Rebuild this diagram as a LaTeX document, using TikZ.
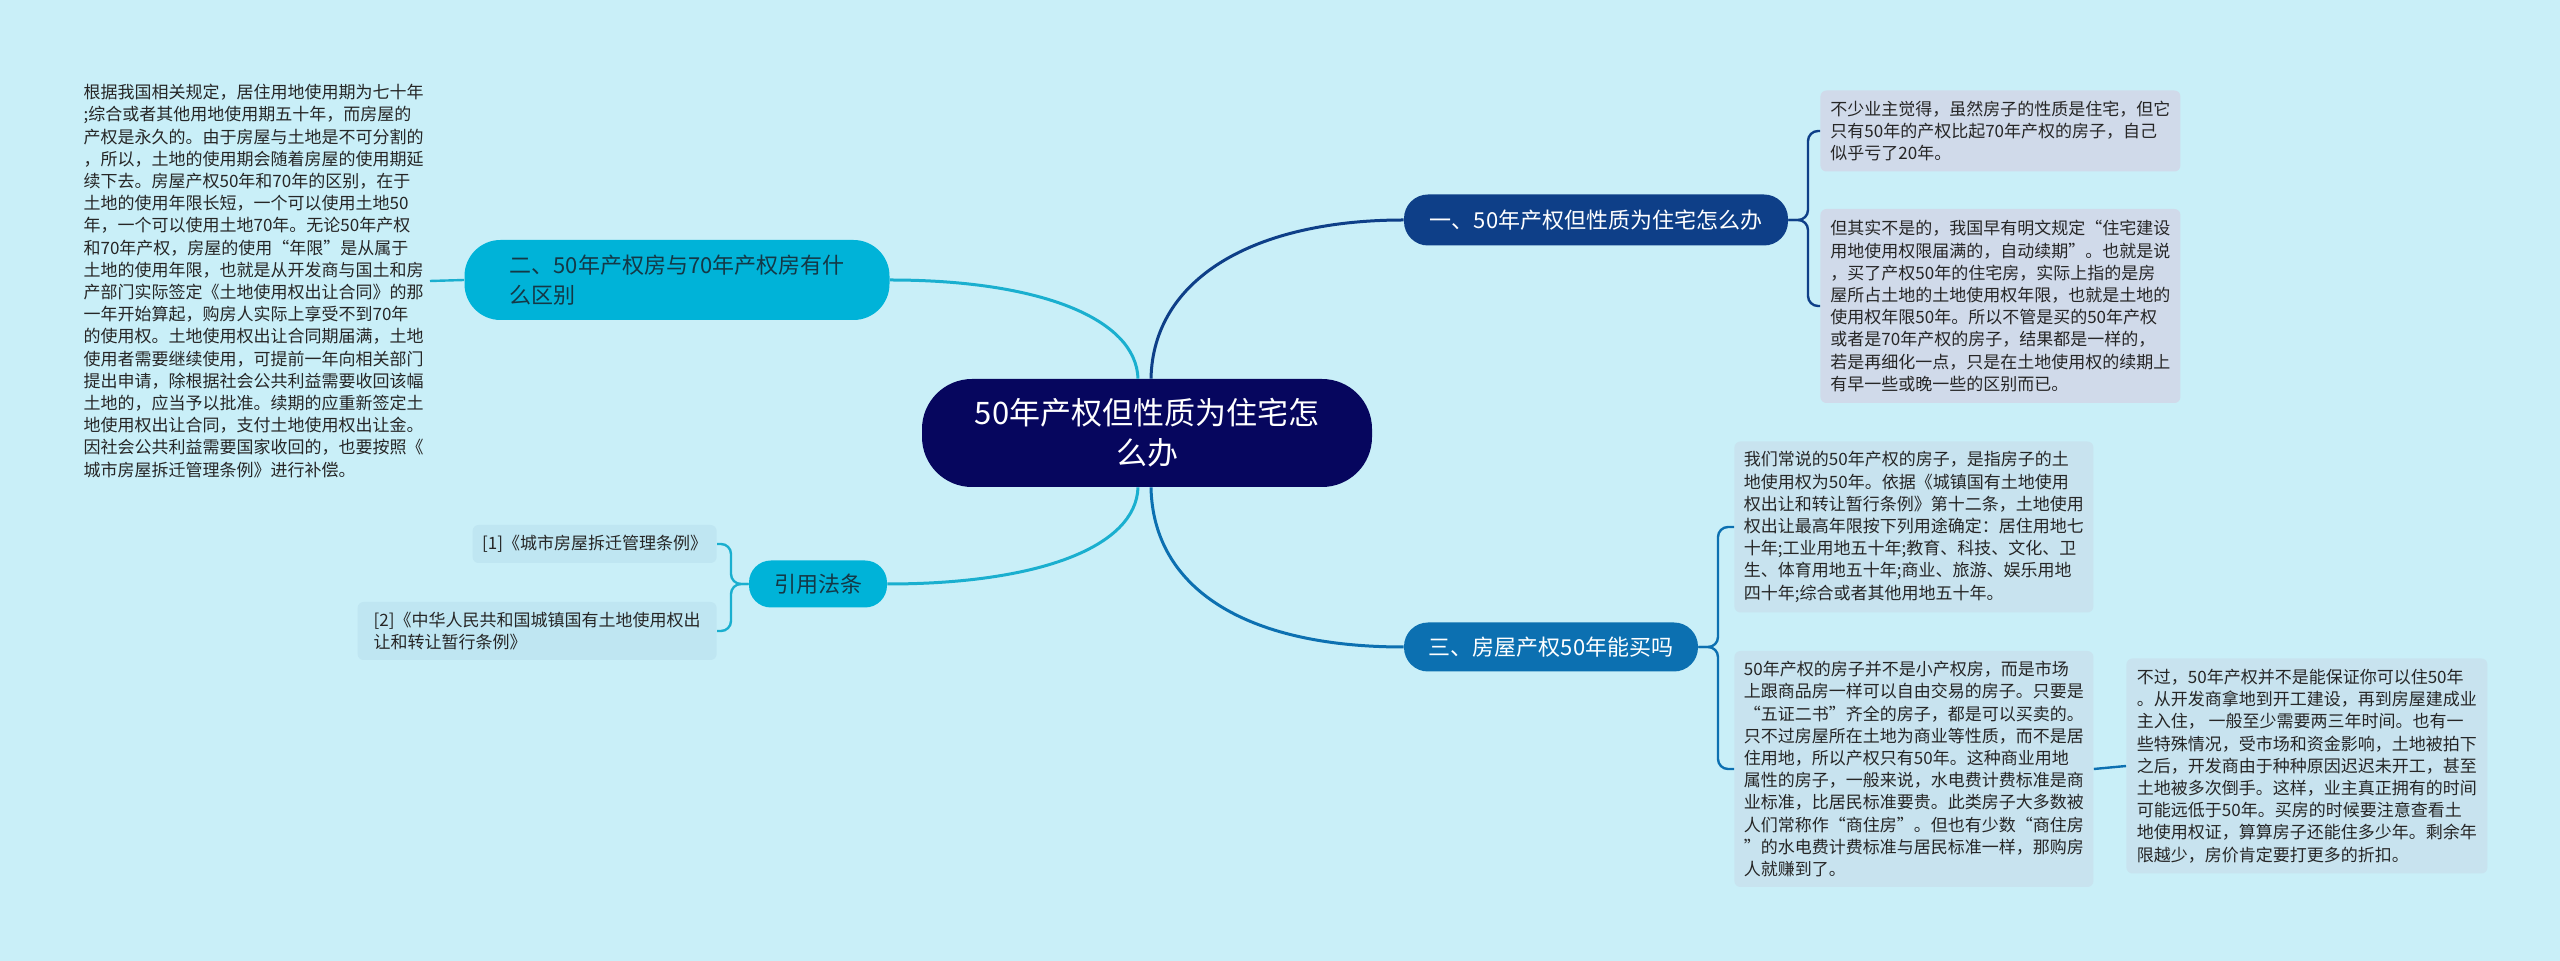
\documentclass[tikz,border=0pt]{standalone}
\usepackage{fontspec}
\setmainfont{Noto Sans CJK SC}
\usetikzlibrary{positioning,calc}
\definecolor{mapBg}{HTML}{C9EFF8}
\definecolor{mapRoot}{HTML}{06065E}
\definecolor{mapNavy}{HTML}{0E3F88}
\definecolor{mapBlue}{HTML}{0C70B1}
\definecolor{mapCyan}{HTML}{00B3D8}
\definecolor{mapTeal}{HTML}{1AAFCF}
\definecolor{leafGrey}{HTML}{D0DAEA}
\definecolor{leafBlue}{HTML}{C8E3EF}
\definecolor{leafRef}{HTML}{BFE6F2}
\definecolor{txtDark}{HTML}{262626}
\definecolor{txtTopic}{HTML}{143846}

\begin{document}
\begin{tikzpicture}[x=0.5pt,y=-0.5pt,
  topic/.style={inner sep=0pt,align=left,font=\fontsize{11}{15}\selectfont},
  leaf/.style={rounded corners=3pt,inner sep=0pt,align=left,text=txtDark,font=\fontsize{8.5}{11.1}\selectfont},
  link/.style={line width=1.5pt},
  brace/.style={line width=1.2pt,rounded corners=5pt}]
\fill[mapBg] (0,0) rectangle (2560,961);
\useasboundingbox (0,0) rectangle (2560,961);
% centre and main topics
\node[fill=mapRoot,text=white,rounded corners=25pt,minimum width=225pt,minimum height=54pt,align=center,inner sep=0pt,font=\fontsize{15.5}{20}\selectfont] (root) at (1147,433) {50年产权但性质为住宅怎\\么办};
\node[topic,fill=mapNavy,text=white,rounded corners=12pt,minimum width=192pt,minimum height=25.5pt] (n1) at (1596,220) {一、50年产权但性质为住宅怎么办};
\node[topic,fill=mapBlue,text=white,rounded corners=12pt,minimum width=147pt,minimum height=24.5pt] (n3) at (1551,647) {三、房屋产权50年能买吗};
\node[topic,fill=mapCyan,text=txtTopic,rounded corners=18pt,minimum width=212.5pt,minimum height=40pt] (n2) at (677,280) {二、50年产权房与70年产权房有什\\么区别};
\node[topic,fill=mapCyan,text=txtTopic,rounded corners=11pt,minimum width=69pt,minimum height=23.5pt] (nref) at (818,584) {引用法条};
% leaves
\node[leaf,fill=leafGrey,anchor=west,minimum width=180pt,minimum height=40.5pt] (leafA) at (1820,131) {不少业主觉得，虽然房子的性质是住宅，但它\\只有50年的产权比起70年产权的房子，自己\\似乎亏了20年。};
\node[leaf,fill=leafGrey,anchor=west,minimum width=180pt,minimum height=97pt] (leafB) at (1820,306) {但其实不是的，我国早有明文规定“住宅建设\\用地使用权限届满的，自动续期”。也就是说\\，买了产权50年的住宅房，实际上指的是房\\屋所占土地的土地使用权年限，也就是土地的\\使用权年限50年。所以不管是买的50年产权\\或者是70年产权的房子，结果都是一样的，\\若是再细化一点，只是在土地使用权的续期上\\有早一些或晚一些的区别而已。};
\node[leaf,fill=leafBlue,anchor=west,minimum width=179.5pt,minimum height=85.5pt] (leafC) at (1734,527) {我们常说的50年产权的房子，是指房子的土\\地使用权为50年。依据《城镇国有土地使用\\权出让和转让暂行条例》第十二条，土地使用\\权出让最高年限按下列用途确定：居住用地七\\十年;工业用地五十年;教育、科技、文化、卫\\生、体育用地五十年;商业、旅游、娱乐用地\\四十年;综合或者其他用地五十年。};
\node[leaf,fill=leafBlue,anchor=west,minimum width=179.5pt,minimum height=118pt] (leafD) at (1734,769) {50年产权的房子并不是小产权房，而是市场\\上跟商品房一样可以自由交易的房子。只要是\\“五证二书”齐全的房子，都是可以买卖的。\\只不过房屋所在土地为商业等性质，而不是居\\住用地，所以产权只有50年。这种商业用地\\属性的房子，一般来说，水电费计费标准是商\\业标准，比居民标准要贵。此类房子大多数被\\人们常称作“商住房”。但也有少数“商住房\\”的水电费计费标准与居民标准一样，那购房\\人就赚到了。};
\node[leaf,fill=leafBlue,anchor=west,minimum width=180.5pt,minimum height=107.5pt] (leafE) at (2126,766) {不过，50年产权并不是能保证你可以住50年\\。从开发商拿地到开工建设，再到房屋建成业\\主入住， 一般至少需要两三年时间。也有一\\些特殊情况，受市场和资金影响，土地被拍下\\之后，开发商由于种种原因迟迟未开工，甚至\\土地被多次倒手。这样，业主真正拥有的时间\\可能远低于50年。买房的时候要注意查看土\\地使用权证，算算房子还能住多少年。剩余年\\限越少，房价肯定要打更多的折扣。};
\node[leaf,fill=leafRef,anchor=east,minimum width=122pt,minimum height=19pt] (ref1) at (717,544) {[1]《城市房屋拆迁管理条例》};
\node[leaf,fill=leafRef,anchor=east,minimum width=179.5pt,minimum height=29pt] (ref2) at (717,631) {[2]《中华人民共和国城镇国有土地使用权出\\让和转让暂行条例》};
\node[leaf,anchor=east,inner xsep=3pt] (leftText) at (430,281) {根据我国相关规定，居住用地使用期为七十年\\;综合或者其他用地使用期五十年，而房屋的\\产权是永久的。由于房屋与土地是不可分割的\\，所以，土地的使用期会随着房屋的使用期延\\续下去。房屋产权50年和70年的区别，在于\\土地的使用年限长短，一个可以使用土地50\\年，一个可以使用土地70年。无论50年产权\\和70年产权，房屋的使用“年限”是从属于\\土地的使用年限，也就是从开发商与国土和房\\产部门实际签定《土地使用权出让合同》的那\\一年开始算起，购房人实际上享受不到70年\\的使用权。土地使用权出让合同期届满，土地\\使用者需要继续使用，可提前一年向相关部门\\提出申请，除根据社会公共利益需要收回该幅\\土地的，应当予以批准。续期的应重新签定土\\地使用权出让合同，支付土地使用权出让金。\\因社会公共利益需要国家收回的，也要按照《\\城市房屋拆迁管理条例》进行补偿。};
% connectors
\draw[link,mapNavy] ([xshift=2pt]root.north) .. controls +(2,-100) and +(-150,0) .. (n1.west);
\draw[link,mapTeal] ([xshift=-4.5pt]root.north) .. controls +(-2,-60) and +(150,0) .. (n2.east);
\draw[link,mapBlue] ([xshift=2pt]root.south) .. controls +(2,100) and +(-160,0) .. (n3.west);
\draw[link,mapTeal] ([xshift=-4.5pt]root.south) .. controls +(-2,60) and +(150,0) .. (nref.east);
\draw[brace,mapNavy] (n1.east) -| ([xshift=-6pt]leafA.west) -- (leafA.west);
\draw[brace,mapNavy] (n1.east) -| ([xshift=-6pt]leafB.west) -- (leafB.west);
\draw[brace,mapBlue] (n3.east) -| ([xshift=-8pt]leafC.west) -- (leafC.west);
\draw[brace,mapBlue] (n3.east) -| ([xshift=-8pt]leafD.west) -- (leafD.west);
\draw[brace,mapTeal] (nref.west) -| ([xshift=7pt]ref1.east) -- (ref1.east);
\draw[brace,mapTeal] (nref.west) -| ([xshift=7pt]ref2.east) -- (ref2.east);
\draw[line width=1.2pt,mapTeal] (leftText.east) -- (n2.west);
\draw[line width=1.2pt,mapBlue] (leafD.east) -- (leafE.west);
\end{tikzpicture}
\end{document}
